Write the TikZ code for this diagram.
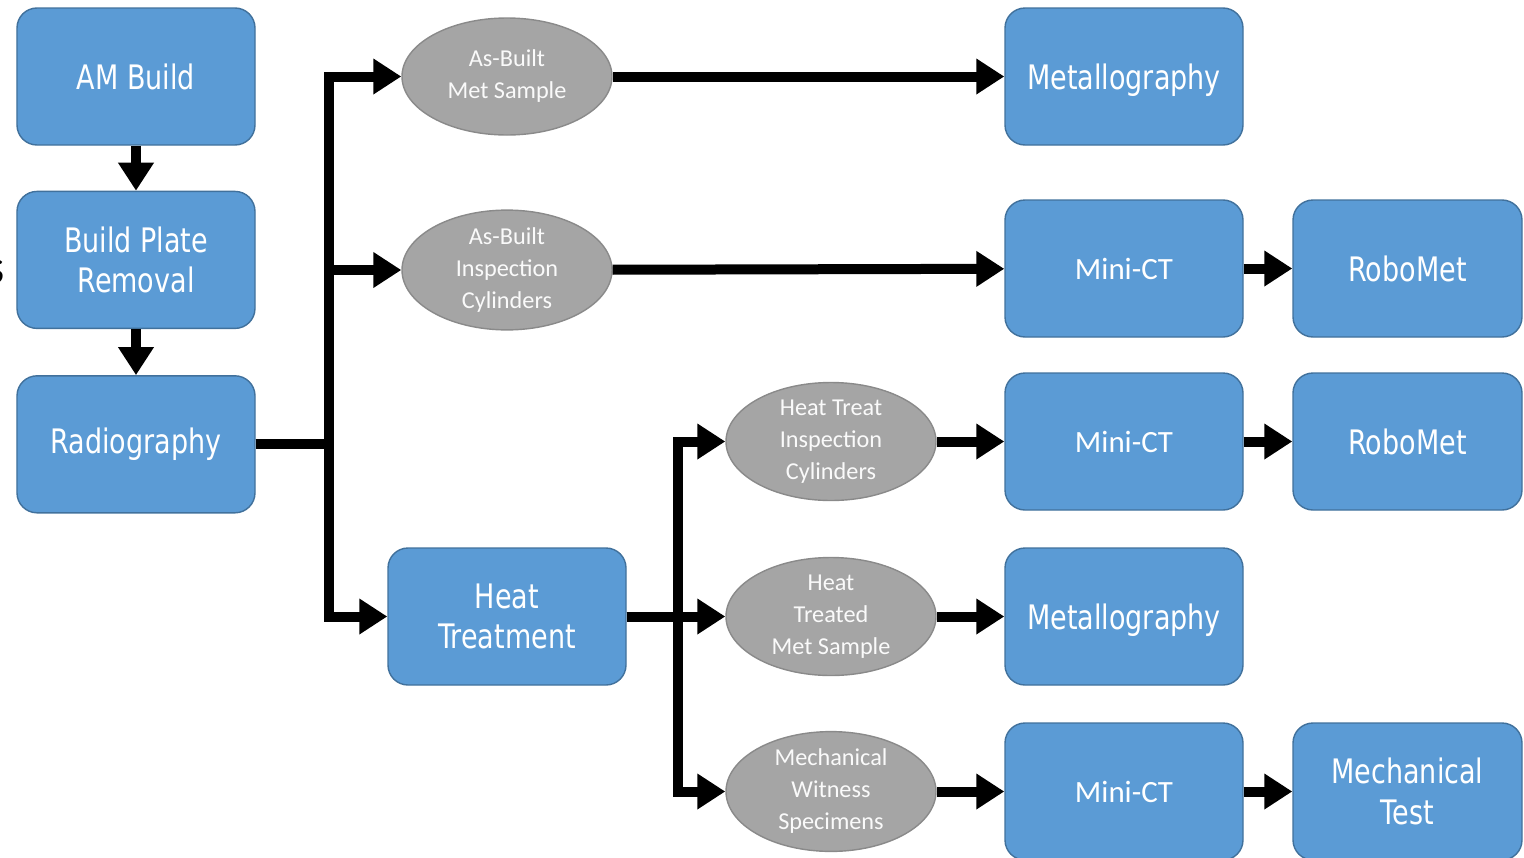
\documentclass[tikz,border=0pt]{standalone}
\usepackage{fontspec}
\newfontfamily\boxfont[FakeStretch=0.8]{DejaVu Sans}
\newfontfamily\calfont{Carlito}
\usepackage{xcolor}
\definecolor{stepBlue}{HTML}{5B9BD5}
\definecolor{stepEdge}{HTML}{41719C}
\definecolor{sampleGray}{HTML}{A5A5A5}
\definecolor{sampleEdge}{HTML}{8A8A8A}
\usepackage{tikz}
\usetikzlibrary{shapes.geometric,arrows.meta,positioning}
\tikzset{
    process/.style={
        draw=stepEdge,
        fill=stepBlue,
        rectangle,
        rounded corners=2mm,
        align=center,
        minimum height=1.37cm,
        minimum width=2.38cm,
        line width=0.4pt,
        text=white,
        inner sep=0pt,
        font=\boxfont\fontsize{9.6}{11.6}\selectfont
    },
    scan/.style={
        process,
        font=\calfont\fontsize{8.8}{10.6}\selectfont
    },
    narrow/.style={
        process,
        minimum width=2.29cm
    },
    sample/.style={
        draw=sampleEdge,
        fill=sampleGray,
        ellipse,
        align=center,
        minimum width=2.1cm,
        minimum height=1.17cm,
        inner sep=0pt,
        line width=0.4pt,
        text=white!95!sampleGray,
        font=\calfont\fontsize{6.9}{9.1}\selectfont
    },
    flow/.style={
        -{Triangle[length=0.28cm,width=0.34cm]},
        line width=0.1cm,
        color=black
    }
}

\begin{document}
\begin{tikzpicture}
    \useasboundingbox (0,0) rectangle (15.24,-8.57);

    % Left column
    \node[process] (ambuild) at (1.36,-0.765) {AM Build};
    \node[process, below=0.45cm of ambuild] (plate) {Build Plate\\Removal};
    \node[process, below=0.46cm of plate] (radio) {Radiography};
    \node[process] (heat) at (5.07,-6.165) {Heat\\Treatment};

    % cut-off letter at the left edge
    \node[font=\calfont\fontsize{14}{16}\selectfont, anchor=east, inner sep=0pt] (cut) at (0.05,-2.72) {s};

    % Samples
    \node[sample] (asmet) at (5.07,-0.765) {As-Built\\Met Sample};
    \node[sample] (ascyl) at (5.07,-2.70) {As-Built\\Inspection\\Cylinders};
    \node[sample] (htcyl) at (8.31,-4.415) {Heat Treat\\Inspection\\Cylinders};
    \node[sample] (htmet) at (8.31,-6.165) {Heat\\Treated\\Met Sample};
    \node[sample] (witness) at (8.31,-7.915) {Mechanical\\Witness\\Specimens};

    % Analyses
    \node[process, text depth=0pt] (metA) at (11.24,-0.765) {Metallography};
    \node[scan] (ctA) at (11.24,-2.685) {Mini-CT};
    \node[narrow] (roboA) at (14.075,-2.685) {RoboMet};
    \node[scan] (ctB) at (11.24,-4.415) {Mini-CT};
    \node[narrow] (roboB) at (14.075,-4.415) {RoboMet};
    \node[process, text depth=0pt] (metB) at (11.24,-6.165) {Metallography};
    \node[scan] (ctC) at (11.24,-7.915) {Mini-CT};
    \node[narrow] (mechtest) at (14.075,-7.915) {Mechanical\\Test};

    % Arrows
    \draw[flow] (ambuild) -- (plate);
    \draw[flow] (plate) -- (radio);
    \draw[flow] (radio.east) -- ++(0.73,0) |- (asmet);
    \draw[flow] (radio.east) -- ++(0.73,0) |- (ascyl);
    \draw[flow] (radio.east) -- ++(0.73,0) |- (heat);
    \draw[flow] (asmet) -- (metA);
    \draw[flow] (ascyl) -- (ctA);
    \draw[flow] (ctA) -- (roboA);
    \draw[flow] (heat.east) -- ++(0.51,0) |- (htcyl);
    \draw[flow] (heat) -- (htmet);
    \draw[flow] (heat.east) -- ++(0.51,0) |- (witness);
    \draw[flow] (htcyl) -- (ctB);
    \draw[flow] (ctB) -- (roboB);
    \draw[flow] (htmet) -- (metB);
    \draw[flow] (witness) -- (ctC);
    \draw[flow] (ctC) -- (mechtest);
\end{tikzpicture}
\end{document}
